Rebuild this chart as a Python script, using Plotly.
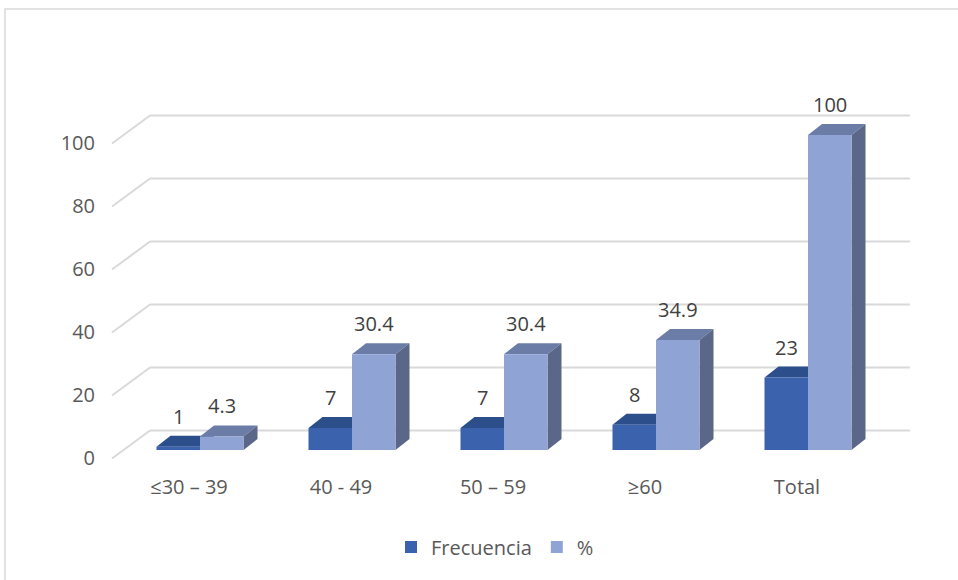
import plotly.graph_objects as go

categories = ["≤30 – 39", "40 - 49", "50 – 59", "≥60", "Total"]
frecuencia = [1, 7, 7, 8, 23]
porcentaje = [4.3, 30.4, 30.4, 34.9, 100]
frec_labels = ["1", "7", "7", "8", "23"]
pct_labels = ["4.3", "30.4", "30.4", "34.9", "100"]
y_ticks = [0, 20, 40, 60, 80, 100]

W, H = 958, 580
ML, MR, MT, MB = 100, 28, 60, 110
PLOT_W = W - ML - MR
PLOT_H = H - MT - MB
# pixel scales
PX_PER_CAT = 152.0
PX_PER_UNIT = 3.15
X0_PX = 200  # pixel position of first category centre
Y0_PX = 450  # pixel position of value 0 (bar plane)

def xd(px):
    return (px - X0_PX) / PX_PER_CAT

def yd(dpx):
    return dpx / PX_PER_UNIT

x_range = [xd(ML), xd(ML + PLOT_W)]
y_range = [-(MT + PLOT_H - Y0_PX) / PX_PER_UNIT, (Y0_PX - MT) / PX_PER_UNIT]

bw = 43.5 / PX_PER_CAT
depth_x = 14 / PX_PER_CAT
depth_y = yd(11)

dark_front, dark_top, dark_side = "#3A62AD", "#2C4E8A", "#2A4A82"
light_front, light_top, light_side = "#8FA3D5", "#6B7DA7", "#5A6789"
grid_col = "#D9D9D9"
text_col = "#595959"
FONT = "Open Sans, Noto Sans, Arial"

xs = list(range(len(categories)))

fig = go.Figure()
fig.add_trace(go.Bar(x=xs, y=frecuencia, name="Frecuencia", width=bw, offset=-bw,
                     marker=dict(color=dark_front, line=dict(width=0))))
fig.add_trace(go.Bar(x=xs, y=porcentaje, name="%", width=bw, offset=0,
                     marker=dict(color=light_front, line=dict(width=0))))

shapes = []
# back wall gridlines + side diagonals
back_dy = yd(19.5)
front_dy = yd(-8.5)
for v in y_ticks:
    shapes.append(dict(type="line", xref="x", yref="y", layer="below",
                       x0=xd(150), x1=xd(910), y0=v + back_dy, y1=v + back_dy,
                       line=dict(color=grid_col, width=2)))
    shapes.append(dict(type="line", xref="x", yref="y", layer="below",
                       x0=xd(150), x1=xd(112), y0=v + back_dy, y1=v + front_dy,
                       line=dict(color=grid_col, width=2)))

def faces(xa, xb, v, top, side):
    out = []
    out.append(dict(type="path", xref="x", yref="y", layer="below",
                    path=f"M{xa},{v} L{xa+depth_x},{v+depth_y} L{xb+depth_x},{v+depth_y} L{xb},{v} Z",
                    fillcolor=top, line=dict(width=0)))
    out.append(dict(type="path", xref="x", yref="y", layer="below",
                    path=f"M{xb},{0} L{xb},{v} L{xb+depth_x},{v+depth_y} L{xb+depth_x},{depth_y} Z",
                    fillcolor=side, line=dict(width=0)))
    return out

for i in xs:
    shapes += faces(i - bw, i, frecuencia[i], dark_top, dark_side)
for i in xs:
    shapes += faces(i, i + bw, porcentaje[i], light_top, light_side)

# outer frame
shapes.append(dict(type="rect", xref="paper", yref="paper", layer="above",
                   x0=(5 - ML) / PLOT_W, x1=(W + 5 - ML) / PLOT_W,
                   y0=(MT + PLOT_H - (H + 5)) / PLOT_H, y1=(MT + PLOT_H - 9) / PLOT_H,
                   line=dict(color=grid_col, width=1.5), fillcolor="rgba(0,0,0,0)"))

annotations = []
for i in xs:
    annotations.append(dict(x=i - bw / 2, y=frecuencia[i], xref="x", yref="y",
                            text=frec_labels[i], showarrow=False, yanchor="bottom",
                            yshift=15, font=dict(size=20, color="#404040", family=FONT)))
    annotations.append(dict(x=i + bw / 2, y=porcentaje[i], xref="x", yref="y",
                            text=pct_labels[i], showarrow=False, yanchor="bottom",
                            yshift=15, font=dict(size=20, color="#404040", family=FONT)))

fig.update_layout(
    width=W, height=H,
    margin=dict(l=ML, r=MR, t=MT, b=MB),
    paper_bgcolor="white", plot_bgcolor="white",
    barmode="overlay",
    shapes=shapes, annotations=annotations,
    font=dict(family=FONT, size=20, color=text_col),
    xaxis=dict(range=x_range, tickmode="array", tickvals=xs, ticktext=categories,
               showgrid=False, zeroline=False, showline=False, ticks="",
               ticklabelshift=-11, ticklabelstandoff=3,
               tickfont=dict(size=20, color=text_col, family=FONT)),
    yaxis=dict(range=y_range, tickmode="array", tickvals=y_ticks,
               showgrid=False, zeroline=False, showline=False, ticks="",
               ticklabelshift=8, ticklabelstandoff=4,
               tickfont=dict(size=20, color=text_col, family=FONT)),
    legend=dict(orientation="h", x=(495 - ML) / PLOT_W, xanchor="center",
                y=(MT + PLOT_H - 547) / PLOT_H, yanchor="middle",
                font=dict(size=20, color=text_col, family=FONT),
                itemwidth=30),
    showlegend=True,
)

fig.write_html("out.html")
